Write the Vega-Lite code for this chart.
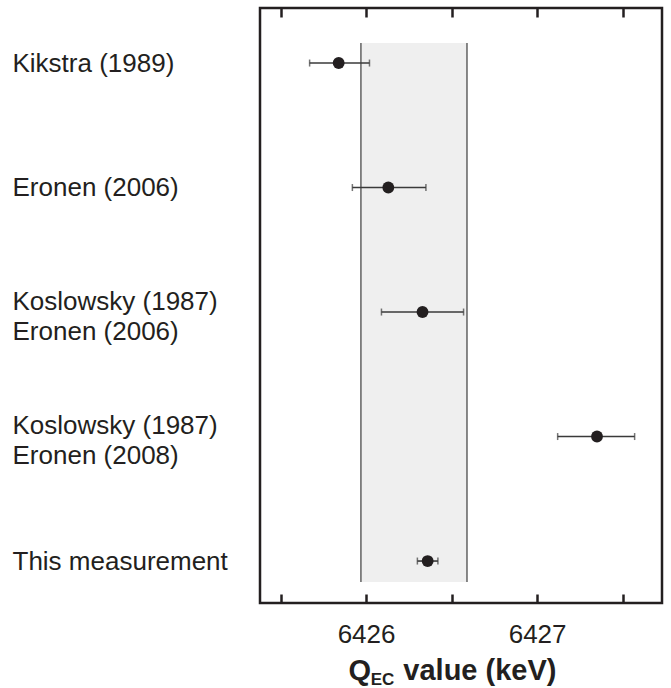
{
  "$schema": "https://vega.github.io/schema/vega-lite/v6.json",
  "width": 402,
  "height": 595,
  "autosize": {"type": "none"},
  "padding": {"left": 260, "top": 8, "right": 9, "bottom": 85},
  "background": "white",
  "config": {
    "view": {"stroke": "#231f20", "strokeWidth": 2.5},
    "font": "Liberation Sans",
    "axis": {"grid": false}
  },
  "datasets": {
    "studies": [
      {"study": "Kikstra (1989)", "row": 1, "q": 6425.84, "lo": 6425.67, "hi": 6426.02},
      {"study": "Eronen (2006)", "row": 2, "q": 6426.13, "lo": 6425.92, "hi": 6426.35},
      {"study": "Koslowsky (1987) / Eronen (2006)", "row": 3, "q": 6426.33, "lo": 6426.09, "hi": 6426.57},
      {"study": "Koslowsky (1987) / Eronen (2008)", "row": 4, "q": 6427.35, "lo": 6427.12, "hi": 6427.57},
      {"study": "This measurement", "row": 5, "q": 6426.36, "lo": 6426.30, "hi": 6426.42}
    ],
    "band": [{"lo": 6425.97, "hi": 6426.59, "top": 0.839, "bottom": 5.169}]
  },
  "resolve": {"axis": {"x": "independent"}},
  "layer": [
    {
      "data": {"name": "band"},
      "mark": {"type": "rect", "fill": "#efefef", "strokeWidth": 0},
      "encoding": {
        "x": {"field": "lo", "type": "quantitative", "scale": {"domain": [6425.38, 6427.73], "nice": false, "zero": false},
          "axis": {"orient": "top", "values": [6425.5, 6426, 6426.5, 6427, 6427.5], "tickSize": -9, "tickWidth": 2.5, "tickColor": "#231f20", "labels": false, "domain": false, "title": null, "grid": false}},
        "x2": {"field": "hi"},
        "y": {"field": "top", "type": "quantitative", "scale": {"domain": [0.558, 5.337], "reverse": true, "nice": false, "zero": false},
          "axis": {"values": [1, 2, 2.915, 3.915, 5], "labelExpr": "datum.value < 1.5 ? 'Kikstra (1989)' : datum.value < 2.5 ? 'Eronen (2006)' : datum.value < 3.5 ? ['Koslowsky (1987)', 'Eronen (2006)'] : datum.value < 4.5 ? ['Koslowsky (1987)', 'Eronen (2008)'] : 'This measurement'", "domain": false, "ticks": false, "labelAlign": "left", "labelPadding": 248, "labelFontSize": 26, "labelColor": "#231f20", "labelLineHeight": 30, "labelBaseline": "middle", "labelLimit": 0, "labelOverlap": false, "labelFlush": false, "labelBound": false, "title": null, "grid": false}},
        "y2": {"field": "bottom"}
      }
    },
    {
      "data": {"name": "band"},
      "mark": {"type": "rule", "color": "#4a4a4a", "strokeWidth": 1.3},
      "encoding": {
        "x": {"field": "lo", "type": "quantitative", "axis": null},
        "y": {"field": "top", "type": "quantitative"},
        "y2": {"field": "bottom"}
      }
    },
    {
      "data": {"name": "band"},
      "mark": {"type": "rule", "color": "#4a4a4a", "strokeWidth": 1.3},
      "encoding": {
        "x": {"field": "hi", "type": "quantitative", "axis": null},
        "y": {"field": "top", "type": "quantitative"},
        "y2": {"field": "bottom"}
      }
    },
    {
      "data": {"name": "studies"},
      "mark": {"type": "errorbar", "ticks": {"size": 7, "thickness": 1.5, "color": "#3a3a3a"}, "rule": {"strokeWidth": 1.6, "color": "#3a3a3a"}},
      "encoding": {
        "x": {"field": "lo", "type": "quantitative",
          "axis": {"orient": "bottom", "values": [6425.5, 6426, 6426.5, 6427, 6427.5], "tickSize": -9, "tickWidth": 2.5, "tickColor": "#231f20", "domain": false, "labelExpr": "datum.value % 1 == 0 ? format(datum.value, 'd') : ''", "labelFontSize": 26, "labelPadding": 27, "labelColor": "#231f20", "labelFlush": false, "labelOverlap": false, "title": "Q\u00a0\u00a0\u00a0\u00a0value (keV)", "titleFontSize": 29, "titleFontWeight": "bold", "titleColor": "#231f20", "titleX": 192, "titleY": 76, "titleBaseline": "alphabetic", "titleAlign": "center", "titleLimit": 0, "grid": false}},
        "x2": {"field": "hi"},
        "y": {"field": "row", "type": "quantitative"}
      }
    },
    {
      "data": {"name": "studies"},
      "mark": {"type": "circle", "size": 140, "color": "#231f20", "opacity": 1},
      "encoding": {
        "x": {"field": "q", "type": "quantitative",
          "axis": {"orient": "bottom", "domain": false, "ticks": false, "labels": false, "title": "EC", "titleFontSize": 17, "titleFontWeight": "bold", "titleColor": "#231f20", "titleX": 122, "titleY": 81, "titleBaseline": "alphabetic", "titleAlign": "center", "grid": false}},
        "y": {"field": "row", "type": "quantitative"}
      }
    }
  ]
}
